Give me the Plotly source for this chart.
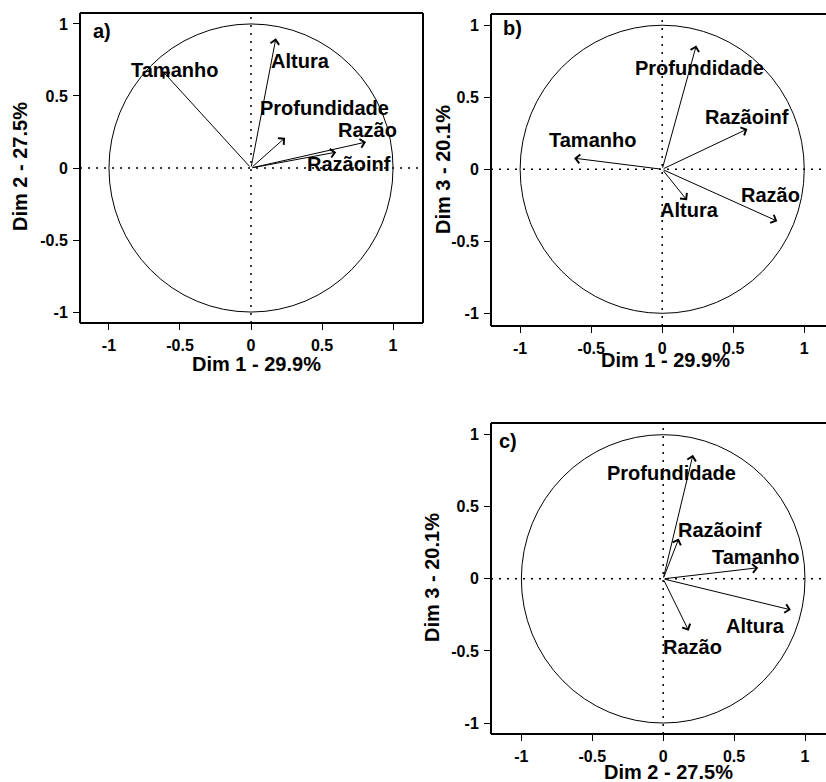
import plotly.graph_objects as go

W, H = 826, 782

# Loadings (correlation of variables with dimensions)
variables = ["Tamanho", "Altura", "Profundidade", "Razão", "Razãoinf"]
dim1 = [-0.62, 0.175, 0.24, 0.81, 0.60]
dim2 = [0.67, 0.90, 0.21, 0.18, 0.11]
dim3 = [0.077, -0.215, 0.86, -0.36, 0.28]
dims = {"Dim 1": dim1, "Dim 2": dim2, "Dim 3": dim3}
explained = {"Dim 1": "29.9%", "Dim 2": "27.5%", "Dim 3": "20.1%"}

tick_vals = [-1, -0.5, 0, 0.5, 1]
tick_text = ["-1", "-0.5", "0", "0.5", "1"]

# label positions per panel (same order as variables)
label_pos_a = [(-0.54, 0.68), (0.35, 0.74), (0.52, 0.42), (0.82, 0.265), (0.69, 0.03)]
label_pos_b = [(-0.49, 0.20), (0.19, -0.28), (0.26, 0.705), (0.76, -0.18), (0.60, 0.365)]
label_pos_c = [(0.65, 0.15), (0.65, -0.325), (0.06, 0.735), (0.205, -0.475), (0.40, 0.34)]

FONT = "Liberation Sans, Arial, sans-serif"

def px2fx(px):
    return px / W

def px2fy(py):
    return 1 - py / H

panels = [
    dict(ax="", xd="Dim 1", yd="Dim 2", tag="a)", box=(80, 13, 423, 323),
         xr=[-1.204, 1.211], yr=[-1.076, 1.076], lab=label_pos_a, closed=True,
         xt=(256, 364), yt=(20, 167), tagpos=(102, 31)),
    dict(ax="2", xd="Dim 1", yd="Dim 3", tag="b)", box=(491, 14, 826, 326),
         xr=[-1.205, 1.153], yr=[-1.088, 1.078], lab=label_pos_b, closed=False,
         xt=(665, 360), yt=(443, 170), tagpos=(512, 28)),
    dict(ax="3", xd="Dim 2", yd="Dim 3", tag="c)", box=(491, 423, 826, 734),
         xr=[-1.214, 1.148], yr=[-1.076, 1.081], lab=label_pos_c, closed=False,
         xt=(668, 772), yt=(432, 578), tagpos=(508, 441)),
]

fig = go.Figure()
layout = dict(
    width=W, height=H, margin=dict(l=0, r=0, t=0, b=0),
    paper_bgcolor="white", plot_bgcolor="white", showlegend=False,
    font=dict(family=FONT, color="black"),
)
shapes = []
annotations = []
DOT = "2px,6px"

for p in panels:
    s = p["ax"]
    xname, yname = "x" + s, "y" + s
    l, t, r, b = p["box"]
    axstyle = dict(showgrid=False, zeroline=False, showline=False,
                   ticks="outside", ticklen=6, tickwidth=1, tickcolor="black",
                   tickvals=tick_vals, ticktext=tick_text,
                   tickfont=dict(family=FONT, size=16, color="black", weight="bold"),
                   fixedrange=True)
    layout["xaxis" + s] = dict(axstyle, domain=[px2fx(l), px2fx(r)], range=p["xr"],
                               anchor=yname, ticklabelstandoff=2)
    layout["yaxis" + s] = dict(axstyle, domain=[px2fy(b), px2fy(t)], range=p["yr"],
                               anchor=xname, ticklabelstandoff=2)
    lw = 2
    shapes.append(dict(type="line", xref="paper", yref="paper", x0=px2fx(l), x1=px2fx(l),
                       y0=px2fy(b), y1=px2fy(t), line=dict(color="black", width=lw)))
    shapes.append(dict(type="line", xref="paper", yref="paper", x0=px2fx(l), x1=px2fx(r),
                       y0=px2fy(t), y1=px2fy(t), line=dict(color="black", width=lw)))
    shapes.append(dict(type="line", xref="paper", yref="paper", x0=px2fx(l), x1=px2fx(r),
                       y0=px2fy(b), y1=px2fy(b), line=dict(color="black", width=lw)))
    if p["closed"]:
        shapes.append(dict(type="line", xref="paper", yref="paper", x0=px2fx(r), x1=px2fx(r),
                           y0=px2fy(b), y1=px2fy(t), line=dict(color="black", width=lw)))
    shapes.append(dict(type="line", xref=xname, yref=yname + " domain", x0=0, x1=0, y0=0, y1=1,
                       line=dict(color="black", width=1.5, dash=DOT)))
    shapes.append(dict(type="line", xref=xname + " domain", yref=yname, x0=0, x1=1, y0=0, y1=0,
                       line=dict(color="black", width=1.5, dash=DOT)))
    shapes.append(dict(type="circle", xref=xname, yref=yname, x0=-1, x1=1, y0=-1, y1=1,
                       line=dict(color="black", width=1)))
    fig.add_trace(go.Scatter(x=[0], y=[0], xaxis=xname, yaxis=yname, mode="markers",
                             marker=dict(size=1, color="rgba(0,0,0,0)"), hoverinfo="skip"))
    xs = dims[p["xd"]]
    ys = dims[p["yd"]]
    for i, v in enumerate(variables):
        annotations.append(dict(x=xs[i], y=ys[i], ax=0, ay=0, xref=xname, yref=yname,
                                axref=xname, ayref=yname, text="", showarrow=True,
                                arrowhead=4, arrowsize=1.7, arrowwidth=1, arrowcolor="black",
                                standoff=0, startstandoff=0))
        lx, ly = p["lab"][i]
        annotations.append(dict(x=lx, y=ly, xref=xname, yref=yname, text=v, showarrow=False,
                                xanchor="center", yanchor="middle",
                                font=dict(family=FONT, size=20, color="black", weight="bold")))
    tx, ty = p["tagpos"]
    annotations.append(dict(x=px2fx(tx), y=px2fy(ty), xref="paper", yref="paper", text=p["tag"],
                            showarrow=False, xanchor="center", yanchor="middle",
                            font=dict(family=FONT, size=20, color="black", weight="bold")))
    xtx, xty = p["xt"]
    annotations.append(dict(x=px2fx(xtx), y=px2fy(xty), xref="paper", yref="paper",
                            text=f"{p['xd']} - {explained[p['xd']]}", showarrow=False,
                            xanchor="center", yanchor="middle",
                            font=dict(family=FONT, size=20, color="black", weight="bold")))
    ytx, yty = p["yt"]
    annotations.append(dict(x=px2fx(ytx), y=px2fy(yty), xref="paper", yref="paper",
                            text=f"{p['yd']} - {explained[p['yd']]}", showarrow=False,
                            textangle=-90, xanchor="center", yanchor="middle",
                            font=dict(family=FONT, size=20, color="black", weight="bold")))

layout["shapes"] = shapes
layout["annotations"] = annotations
fig.update_layout(**layout)
fig.write_html("out.html")
